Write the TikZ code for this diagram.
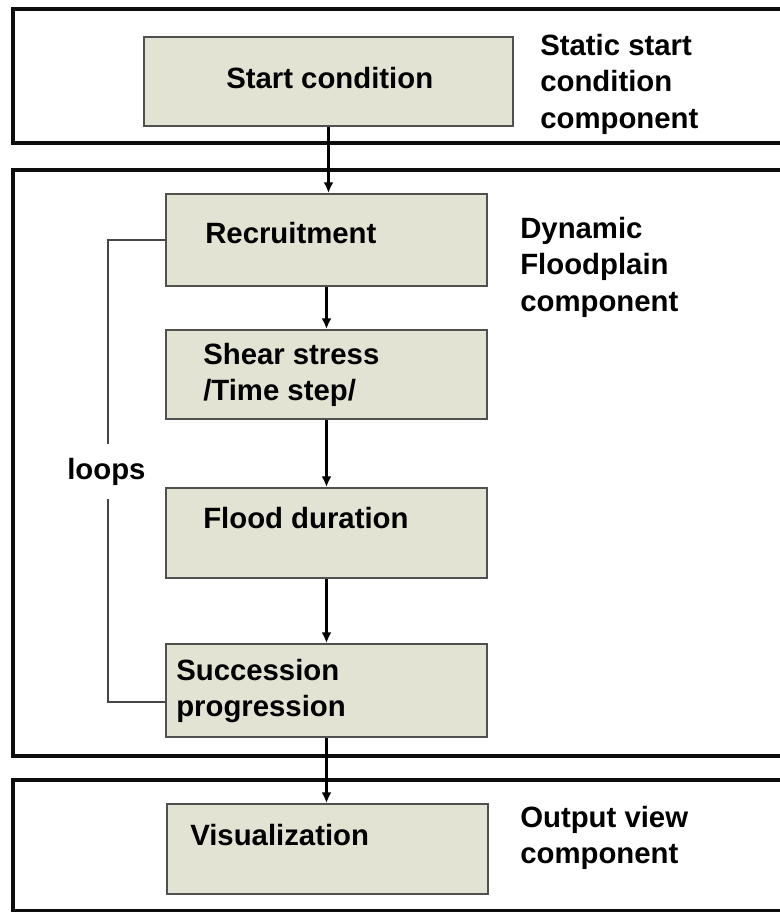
\documentclass[tikz,border=0pt]{standalone}
\usepackage{fontspec}
\setmainfont{Liberation Sans}
\usetikzlibrary{arrows.meta}
\definecolor{boxfill}{RGB}{227,227,211}
\definecolor{boxline}{RGB}{80,80,80}
\definecolor{loopline}{RGB}{70,70,70}
\tikzset{
  x=0.75pt, y=-0.75pt,
  panel/.style={draw=black!95, line width=2.4pt},
  stepbox/.style={draw=boxline, fill=boxfill, line width=1.5pt, anchor=north west, inner sep=0pt},
  boxtext/.style={anchor=west, inner sep=0pt, font=\bfseries\fontsize{22pt}{27.4pt}\selectfont, align=left},
  sidetext/.style={anchor=west, inner sep=0pt, font=\bfseries\fontsize{22pt}{27.4pt}\selectfont, align=left},
  flow/.style={draw=black, line width=2.2pt, -{Latex[length=8pt,width=7.5pt]}},
  loopl/.style={draw=loopline, line width=1.1pt}
}
\begin{document}
\begin{tikzpicture}
\clip (0,0) rectangle (780,912);
\fill[white] (0,0) rectangle (780,912);
% panels
\draw[panel] (13,9) rectangle (800,143);
\draw[panel] (13,170) rectangle (800,756);
\draw[panel] (13,780) rectangle (800,911);
% boxes
\node[stepbox, minimum width=276.75pt, minimum height=66.75pt] (start) at (143,36) {};
\node[stepbox, minimum width=240.75pt, minimum height=69pt] (recruit) at (165,193) {};
\node[stepbox, minimum width=240.75pt, minimum height=66.75pt] (shear) at (165,329) {};
\node[stepbox, minimum width=240.75pt, minimum height=67.5pt] (flood) at (165,487) {};
\node[stepbox, minimum width=240.75pt, minimum height=69.75pt] (succ) at (165,643) {};
\node[stepbox, minimum width=240.75pt, minimum height=67.5pt] (viz) at (166,803) {};
% box texts
\node[boxtext] (startT) at (226,78) {Start condition};
\node[boxtext] (recruitT) at (205,233) {Recruitment};
\node[boxtext] (shearT) at (203,375) {Shear stress\\/Time step/};
\node[boxtext] (floodT) at (203,518) {Flood duration};
\node[boxtext] (succT) at (176,691) {Succession\\progression};
\node[boxtext] (vizT) at (190,835) {Visualization};
% side texts
\node[sidetext] (staticT) at (540,84) {Static start\\condition\\component};
\node[sidetext] (dynT) at (520,267) {Dynamic\\Floodplain\\component};
\node[sidetext] (outT) at (520,838) {Output view\\component};
\node[boxtext] (loopsT) at (67,472) {loops};
% flow arrows
\draw[flow] (start.south) -- (start.south |- recruit.north);
\draw[flow] (recruit.south) -- (shear.north);
\draw[flow] (shear.south) -- (flood.north);
\draw[flow] (flood.south) -- (succ.north);
\draw[flow] (succ.south) -- (viz.north -| succ.south);
% loop line
\coordinate (lp1) at (108,444);
\coordinate (lp2) at (108,499);
\coordinate (lp3) at (108,702);
\draw[loopl] (recruit.west) -| (lp1);
\draw[loopl] (lp2) -- (lp3) -- (succ.west |- lp3);
\end{tikzpicture}
\end{document}
